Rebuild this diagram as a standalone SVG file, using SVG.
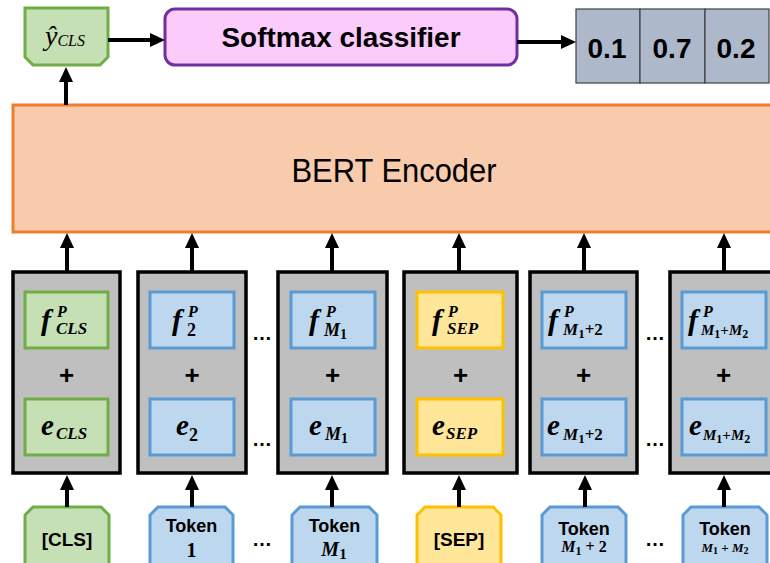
<svg xmlns="http://www.w3.org/2000/svg" width="770" height="563" viewBox="0 0 770 563">
  <defs>
    <marker id="arrow" viewBox="0 0 15 14" refX="3" refY="7" markerWidth="15" markerHeight="14" markerUnits="userSpaceOnUse" orient="auto">
      <path d="M0,0 L15,7 L0,14 Z" fill="#000"/>
    </marker>
  </defs>
  <style>
    .sans { font-family: "Liberation Sans", Arial, sans-serif; fill: #000; }
    .bold { font-weight: bold; }
    .math { font-family: "Liberation Serif", "Times New Roman", serif; font-style: italic; font-weight: bold; fill: #000; }
    .up { font-style: normal; }
    .green { fill: #c5e0b4; stroke: #70ad47; stroke-width: 3; }
    .blue { fill: #bdd7ee; stroke: #5b9bd5; stroke-width: 3; }
    .yellow { fill: #ffe699; stroke: #ffc000; stroke-width: 3; }
    .col { fill: #bfbfbf; stroke: #000; stroke-width: 3.5; }
    .cell { fill: #adb9ca; stroke: #404040; stroke-width: 1.2; }
    .conn { stroke: #000; stroke-width: 4; fill: none; marker-end: url(#arrow); }
    .plus { font-family: "Liberation Sans", Arial, sans-serif; font-weight: bold; font-size: 26px; text-anchor: middle; }
    .dots { font-family: "Liberation Sans", Arial, sans-serif; font-weight: bold; font-size: 20px; text-anchor: middle; }
  </style>

  <!-- Output: predicted label -->
  <g id="y-cls">
    <path class="green" d="M25,8 H108 V57 L100,65 H33 L25,57 Z"/>
    <text x="45" y="45" font-family="Liberation Serif, serif" font-style="italic" font-size="28">ŷ<tspan font-size="16" dy="1">CLS</tspan></text>
  </g>

  <!-- Softmax classifier -->
  <g id="softmax">
    <rect x="165" y="9" width="352" height="56" rx="10" fill="#fbcbfb" stroke="#7030a0" stroke-width="3"/>
    <text class="sans bold" x="341" y="47" font-size="28" text-anchor="middle" textLength="239" lengthAdjust="spacingAndGlyphs">Softmax classifier</text>
  </g>

  <!-- Class probabilities -->
  <g id="probs">
    <rect class="cell" x="576" y="9" width="64" height="74"/>
    <rect class="cell" x="640" y="9" width="65" height="74"/>
    <rect class="cell" x="705" y="9" width="64" height="74"/>
    <text class="sans bold" x="607" y="58" font-size="28" text-anchor="middle">0.1</text>
    <text class="sans bold" x="672" y="58" font-size="28" text-anchor="middle">0.7</text>
    <text class="sans bold" x="736" y="58" font-size="28" text-anchor="middle">0.2</text>
  </g>

  <!-- Encoder -->
  <g id="bert">
    <rect x="13" y="105" width="780" height="127" fill="#f8cbad" stroke="#ed7d31" stroke-width="3"/>
    <text class="sans" x="394" y="182" font-size="34" text-anchor="middle" textLength="205" lengthAdjust="spacingAndGlyphs">BERT Encoder</text>
  </g>

  <!-- Input embedding columns -->
  <g id="col-cls">
    <rect class="col" x="13" y="272" width="107" height="201"/>
    <rect class="green" x="25" y="292" width="83" height="56"/>
    <rect class="green" x="25" y="399" width="83" height="56"/>
    <text class="math" x="41" y="330" font-size="30">f</text>
    <text class="math" x="57" y="317" font-size="16">P</text>
    <text class="math" x="56" y="334" font-size="17">CLS</text>
    <text class="plus" x="66.5" y="384">+</text>
    <text class="math" x="41" y="435" font-size="29">e</text>
    <text class="math" x="56" y="439" font-size="17">CLS</text>
  </g>

  <g id="col-2">
    <rect class="col" x="138" y="272" width="108" height="201"/>
    <rect class="blue" x="150" y="292" width="84" height="56"/>
    <rect class="blue" x="150" y="399" width="84" height="56"/>
    <text class="math" x="172" y="330" font-size="30">f</text>
    <text class="math" x="188" y="317" font-size="16">P</text>
    <text class="math up" x="187" y="336" font-size="18">2</text>
    <text class="plus" x="192" y="384">+</text>
    <text class="math" x="176" y="435" font-size="29">e</text>
    <text class="math up" x="189" y="441" font-size="18">2</text>
  </g>

  <g id="col-m1">
    <rect class="col" x="278" y="272" width="109" height="201"/>
    <rect class="blue" x="291" y="292" width="84" height="56"/>
    <rect class="blue" x="291" y="399" width="84" height="56"/>
    <text class="math" x="309" y="330" font-size="30">f</text>
    <text class="math" x="326" y="317" font-size="16">P</text>
    <text class="math" x="324" y="336" font-size="18">M<tspan class="up" font-size="14" dy="3">1</tspan></text>
    <text class="plus" x="332.5" y="384">+</text>
    <text class="math" x="309" y="435" font-size="29">e</text>
    <text class="math" x="325" y="440" font-size="18">M<tspan class="up" font-size="14" dy="3">1</tspan></text>
  </g>

  <g id="col-sep">
    <rect class="col" x="404" y="272" width="113" height="201"/>
    <rect class="yellow" x="417" y="292" width="86" height="56"/>
    <rect class="yellow" x="417" y="399" width="86" height="56"/>
    <text class="math" x="432" y="330" font-size="30">f</text>
    <text class="math" x="448" y="317" font-size="16">P</text>
    <text class="math" x="447" y="334" font-size="17">SEP</text>
    <text class="plus" x="460.5" y="384">+</text>
    <text class="math" x="432" y="435" font-size="29">e</text>
    <text class="math" x="446" y="439" font-size="17">SEP</text>
  </g>

  <g id="col-m1-2">
    <rect class="col" x="530" y="272" width="107" height="201"/>
    <rect class="blue" x="542" y="292" width="84" height="56"/>
    <rect class="blue" x="542" y="399" width="84" height="56"/>
    <text class="math" x="548" y="330" font-size="30">f</text>
    <text class="math" x="564" y="317" font-size="16">P</text>
    <text class="math" x="563" y="335" font-size="17">M<tspan class="up" font-size="13" dy="3">1</tspan><tspan class="up" font-size="17" dy="-3">+2</tspan></text>
    <text class="plus" x="583.5" y="384">+</text>
    <text class="math" x="547" y="435" font-size="29">e</text>
    <text class="math" x="563" y="440" font-size="17">M<tspan class="up" font-size="13" dy="3">1</tspan><tspan class="up" font-size="17" dy="-3">+2</tspan></text>
  </g>

  <g id="col-m1-m2">
    <rect class="col" x="670" y="272" width="107" height="201"/>
    <rect class="blue" x="682" y="292" width="84" height="56"/>
    <rect class="blue" x="682" y="399" width="84" height="56"/>
    <text class="math" x="688" y="330" font-size="30">f</text>
    <text class="math" x="703" y="317" font-size="16">P</text>
    <text class="math" x="701" y="335" font-size="15">M<tspan class="up" font-size="12" dy="3">1</tspan><tspan class="up" font-size="15" dy="-3">+</tspan>M<tspan class="up" font-size="12" dy="3">2</tspan></text>
    <text class="plus" x="723.5" y="384">+</text>
    <text class="math" x="689" y="435" font-size="29">e</text>
    <text class="math" x="703" y="440" font-size="15">M<tspan class="up" font-size="12" dy="3">1</tspan><tspan class="up" font-size="15" dy="-3">+</tspan>M<tspan class="up" font-size="12" dy="3">2</tspan></text>
  </g>

  <!-- Ellipses between columns and tokens -->
  <g id="ellipses">
    <text class="dots" x="262" y="340">…</text>
    <text class="dots" x="262" y="446">…</text>
    <text class="dots" x="262" y="546">…</text>
    <text class="dots" x="655" y="340">…</text>
    <text class="dots" x="655" y="446">…</text>
    <text class="dots" x="655" y="546">…</text>
  </g>

  <!-- Input tokens -->
  <g id="tok-cls">
    <path class="green" d="M25,570 V515 L33,507 H101 L109,515 V570"/>
    <text class="sans bold" x="67" y="546" font-size="19" text-anchor="middle">[CLS]</text>
  </g>
  <g id="tok-1">
    <path class="blue" d="M150,570 V515 L158,507 H225 L233,515 V570"/>
    <text class="sans bold" x="191.5" y="532" font-size="18" text-anchor="middle">Token</text>
    <text class="math up" x="191.5" y="557" font-size="20" text-anchor="middle">1</text>
  </g>
  <g id="tok-m1">
    <path class="blue" d="M292,570 V515 L300,507 H369 L377,515 V570"/>
    <text class="sans bold" x="334.5" y="532" font-size="18" text-anchor="middle">Token</text>
    <text class="math" x="334" y="556" font-size="20" text-anchor="middle">M<tspan class="up" font-size="15" dy="3">1</tspan></text>
  </g>
  <g id="tok-sep">
    <path class="yellow" d="M417,570 V515 L425,507 H493 L501,515 V570"/>
    <text class="sans bold" x="459" y="546" font-size="19" text-anchor="middle">[SEP]</text>
  </g>
  <g id="tok-m1-2">
    <path class="blue" d="M542,570 V515 L550,507 H618 L626,515 V570"/>
    <text class="sans bold" x="584" y="535" font-size="18" text-anchor="middle">Token</text>
    <text class="math" x="584" y="552" font-size="16" text-anchor="middle">M<tspan class="up" font-size="12" dy="3">1</tspan><tspan class="up" font-size="16" dy="-3"> + 2</tspan></text>
  </g>
  <g id="tok-m1-m2">
    <path class="blue" d="M683,570 V515 L691,507 H759 L767,515 V570"/>
    <text class="sans bold" x="725" y="535" font-size="18" text-anchor="middle">Token</text>
    <text class="math" x="725" y="552" font-size="13" text-anchor="middle">M<tspan class="up" font-size="10" dy="2">1</tspan><tspan class="up" font-size="13" dy="-2"> + </tspan>M<tspan class="up" font-size="10" dy="2">2</tspan></text>
  </g>

  <!-- Connectors -->
  <g id="connectors">
    <line class="conn" x1="108" y1="40" x2="153" y2="40"/>
    <line class="conn" x1="517" y1="42" x2="564" y2="42"/>
    <line class="conn" x1="66" y1="105" x2="66" y2="79"/>
    <line class="conn" x1="67" y1="272" x2="67" y2="245"/>
    <line class="conn" x1="192" y1="272" x2="192" y2="245"/>
    <line class="conn" x1="332" y1="272" x2="332" y2="245"/>
    <line class="conn" x1="459" y1="272" x2="459" y2="245"/>
    <line class="conn" x1="584" y1="272" x2="584" y2="245"/>
    <line class="conn" x1="724" y1="272" x2="724" y2="245"/>
    <line class="conn" x1="67" y1="507" x2="67" y2="487"/>
    <line class="conn" x1="192" y1="507" x2="192" y2="487"/>
    <line class="conn" x1="332" y1="507" x2="332" y2="487"/>
    <line class="conn" x1="459" y1="507" x2="459" y2="487"/>
    <line class="conn" x1="585" y1="507" x2="585" y2="487"/>
    <line class="conn" x1="724" y1="507" x2="724" y2="487"/>
  </g>
</svg>
